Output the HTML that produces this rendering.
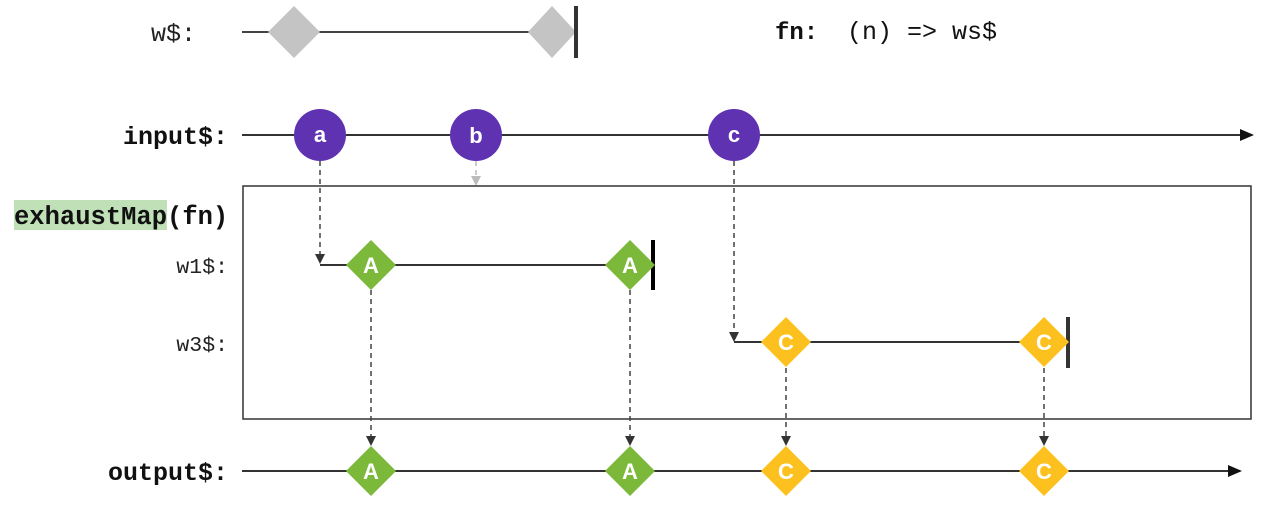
<!DOCTYPE html>
<html><head><meta charset="utf-8"><style>
html,body{margin:0;padding:0;background:#fff;}
svg{display:block;}
text{font-family:"Liberation Mono","DejaVu Sans Mono",monospace;}
.lbl{font-family:"Liberation Sans",sans-serif;font-weight:bold;fill:#fff;font-size:22px;}
</style></head><body>
<svg width="1284" height="520" viewBox="0 0 1284 520" xmlns="http://www.w3.org/2000/svg">
<defs>
<marker id="ar" markerWidth="10" markerHeight="10" refX="8" refY="5" orient="auto" markerUnits="userSpaceOnUse"><path d="M0,0 L10,5 L0,10 z" fill="#333"/></marker>
<marker id="ag" markerWidth="10" markerHeight="10" refX="8" refY="5" orient="auto" markerUnits="userSpaceOnUse"><path d="M0,0 L10,5 L0,10 z" fill="#bbb"/></marker>
<marker id="big" markerWidth="14" markerHeight="12" refX="12" refY="6" orient="auto" markerUnits="userSpaceOnUse"><path d="M0,0 L14,6 L0,12 z" fill="#111"/></marker>
</defs>
<!-- w$ -->
<text x="196" y="41" font-size="25" text-anchor="end" fill="#222">w$:</text>
<line x1="242" y1="32" x2="576" y2="32" stroke="#444" stroke-width="2"/>
<polygon points="294,6 320,32 294,58 268,32" fill="#c4c4c4"/>
<polygon points="552,6 576,32 552,58 528,32" fill="#c4c4c4"/>
<line x1="576" y1="6" x2="576" y2="58" stroke="#333" stroke-width="4"/>
<text x="775" y="39" font-size="24" font-weight="bold" fill="#111">fn:</text>
<text x="847" y="39" font-size="25" fill="#111">(n) =&gt; ws$</text>
<!-- input -->
<text x="228" y="144" font-size="25" font-weight="bold" text-anchor="end" fill="#111">input$:</text>
<line x1="242" y1="135" x2="1252" y2="135" stroke="#333" stroke-width="2" marker-end="url(#big)"/>
<line x1="320" y1="161" x2="320" y2="262" stroke="#444" stroke-width="1.5" stroke-dasharray="5,4" marker-end="url(#ar)"/>
<line x1="476" y1="161" x2="476" y2="184" stroke="#bbb" stroke-width="1.5" stroke-dasharray="5,4" marker-end="url(#ag)"/>
<line x1="734" y1="161" x2="734" y2="340" stroke="#444" stroke-width="1.5" stroke-dasharray="5,4" marker-end="url(#ar)"/>
<circle cx="320" cy="135" r="26" fill="#5e32b1"/><text x="320" y="142" class="lbl" text-anchor="middle">a</text>
<circle cx="476" cy="135" r="26" fill="#5e32b1"/><text x="476" y="143" class="lbl" text-anchor="middle">b</text>
<circle cx="734" cy="135" r="26" fill="#5e32b1"/><text x="734" y="142" class="lbl" text-anchor="middle">c</text>
<!-- box -->
<rect x="243" y="186" width="1008" height="233" fill="none" stroke="#333" stroke-width="1.5"/>
<rect x="14" y="200" width="153" height="30" fill="#c0e0b8"/>
<text x="14" y="224" font-size="25.5" font-weight="bold" fill="#111">exhaustMap(fn)</text>
<text x="228" y="273" font-size="21.5" text-anchor="end" fill="#222">w1$:</text>
<text x="228" y="351" font-size="21.5" text-anchor="end" fill="#222">w3$:</text>
<line x1="320" y1="265" x2="653" y2="265" stroke="#333" stroke-width="2"/>
<line x1="653" y1="240" x2="653" y2="290" stroke="#000" stroke-width="4"/>
<line x1="734" y1="342" x2="1068" y2="342" stroke="#333" stroke-width="2"/>
<line x1="1068" y1="317" x2="1068" y2="368" stroke="#333" stroke-width="4"/>
<g stroke="#444" stroke-width="1.5" stroke-dasharray="5,4" marker-end="url(#ar)">
<line x1="371" y1="290" x2="371" y2="444"/>
<line x1="630" y1="290" x2="630" y2="444"/>
<line x1="786" y1="368" x2="786" y2="444"/>
<line x1="1044" y1="368" x2="1044" y2="444"/>
</g>
<g>
<polygon points="371,240 396,265 371,290 346,265" fill="#7cb93a"/><text x="371" y="273" class="lbl" text-anchor="middle">A</text>
<polygon points="630,240 655,265 630,290 605,265" fill="#7cb93a"/><text x="630" y="273" class="lbl" text-anchor="middle">A</text>
<polygon points="786,317 811,342 786,367 761,342" fill="#fdc11f"/><text x="786" y="350" class="lbl" text-anchor="middle">C</text>
<polygon points="1044,317 1069,342 1044,367 1019,342" fill="#fdc11f"/><text x="1044" y="350" class="lbl" text-anchor="middle">C</text>
</g>
<!-- output -->
<text x="228" y="480" font-size="25" font-weight="bold" text-anchor="end" fill="#111">output$:</text>
<line x1="242" y1="471" x2="1240" y2="471" stroke="#333" stroke-width="2" marker-end="url(#big)"/>
<polygon points="371,446 396,471 371,496 346,471" fill="#7cb93a"/><text x="371" y="479" class="lbl" text-anchor="middle">A</text>
<polygon points="630,446 655,471 630,496 605,471" fill="#7cb93a"/><text x="630" y="479" class="lbl" text-anchor="middle">A</text>
<polygon points="786,446 811,471 786,496 761,471" fill="#fdc11f"/><text x="786" y="479" class="lbl" text-anchor="middle">C</text>
<polygon points="1044,446 1069,471 1044,496 1019,471" fill="#fdc11f"/><text x="1044" y="479" class="lbl" text-anchor="middle">C</text>
</svg>
</body></html>
